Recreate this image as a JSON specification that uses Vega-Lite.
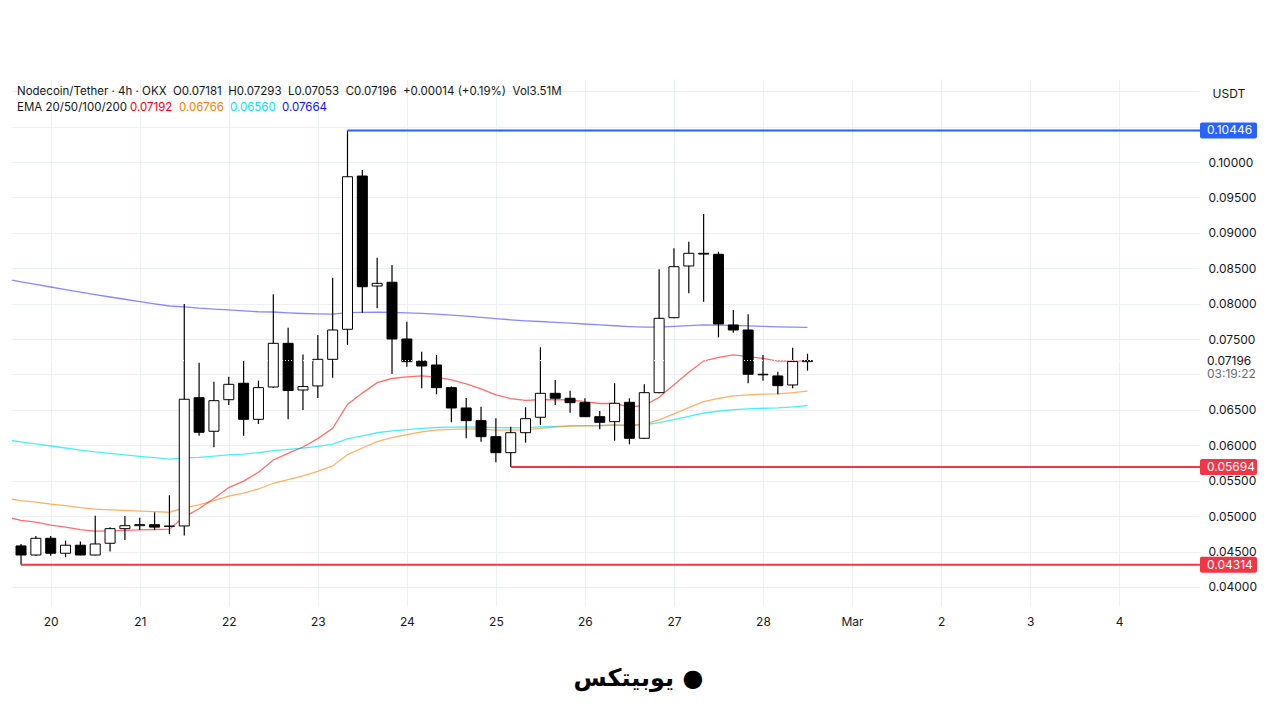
{
  "$schema": "https://vega.github.io/schema/vega-lite/v6.json",
  "description": "Nodecoin/Tether 4h candles with EMA 20/50/100/200",
  "width": 1188,
  "height": 527,
  "autosize": {"type": "none"},
  "padding": {"left": 12, "top": 79, "right": 80, "bottom": 114},
  "background": "#ffffff",
  "datasets": {
    "candles": [
      {"t": "2025-02-19T12:00:00Z", "ema20": 0.04990, "ema50": 0.05250, "ema100": 0.06080, "ema200": 0.08348},
      {"t": "2025-02-19T16:00:00Z", "open": 0.04579, "high": 0.04607, "low": 0.04314, "close": 0.04451, "ema20": 0.04939, "ema50": 0.05219, "ema100": 0.06048, "ema200": 0.08309},
      {"t": "2025-02-19T20:00:00Z", "open": 0.04451, "high": 0.04720, "low": 0.04440, "close": 0.04687, "ema20": 0.04915, "ema50": 0.05198, "ema100": 0.06021, "ema200": 0.08273},
      {"t": "2025-02-20T00:00:00Z", "open": 0.04687, "high": 0.04720, "low": 0.04442, "close": 0.04476, "ema20": 0.04873, "ema50": 0.05170, "ema100": 0.05990, "ema200": 0.08235},
      {"t": "2025-02-20T04:00:00Z", "open": 0.04476, "high": 0.04654, "low": 0.04420, "close": 0.04589, "ema20": 0.04846, "ema50": 0.05147, "ema100": 0.05962, "ema200": 0.08199},
      {"t": "2025-02-20T08:00:00Z", "open": 0.04589, "high": 0.04640, "low": 0.04446, "close": 0.04451, "ema20": 0.04808, "ema50": 0.05120, "ema100": 0.05932, "ema200": 0.08162},
      {"t": "2025-02-20T12:00:00Z", "open": 0.04451, "high": 0.05006, "low": 0.04445, "close": 0.04607, "ema20": 0.04789, "ema50": 0.05100, "ema100": 0.05906, "ema200": 0.08127},
      {"t": "2025-02-20T16:00:00Z", "open": 0.04617, "high": 0.04843, "low": 0.04500, "close": 0.04823, "ema20": 0.04792, "ema50": 0.05089, "ema100": 0.05885, "ema200": 0.08094},
      {"t": "2025-02-20T20:00:00Z", "open": 0.04823, "high": 0.05002, "low": 0.04663, "close": 0.04865, "ema20": 0.04799, "ema50": 0.05080, "ema100": 0.05865, "ema200": 0.08062},
      {"t": "2025-02-21T00:00:00Z", "open": 0.04865, "high": 0.04977, "low": 0.04804, "close": 0.04880, "ema20": 0.04807, "ema50": 0.05072, "ema100": 0.05845, "ema200": 0.08030},
      {"t": "2025-02-21T04:00:00Z", "open": 0.04879, "high": 0.05054, "low": 0.04804, "close": 0.04845, "ema20": 0.04811, "ema50": 0.05063, "ema100": 0.05825, "ema200": 0.07998},
      {"t": "2025-02-21T08:00:00Z", "open": 0.04855, "high": 0.05294, "low": 0.04745, "close": 0.04860, "ema20": 0.04815, "ema50": 0.05055, "ema100": 0.05806, "ema200": 0.07967},
      {"t": "2025-02-21T12:00:00Z", "open": 0.04861, "high": 0.07995, "low": 0.04727, "close": 0.06650, "ema20": 0.04990, "ema50": 0.05118, "ema100": 0.05823, "ema200": 0.07954},
      {"t": "2025-02-21T16:00:00Z", "open": 0.06672, "high": 0.07166, "low": 0.06136, "close": 0.06184, "ema20": 0.05104, "ema50": 0.05160, "ema100": 0.05830, "ema200": 0.07936},
      {"t": "2025-02-21T20:00:00Z", "open": 0.06198, "high": 0.06898, "low": 0.05972, "close": 0.06630, "ema20": 0.05249, "ema50": 0.05218, "ema100": 0.05846, "ema200": 0.07923},
      {"t": "2025-02-22T00:00:00Z", "open": 0.06644, "high": 0.06969, "low": 0.06569, "close": 0.06861, "ema20": 0.05403, "ema50": 0.05282, "ema100": 0.05866, "ema200": 0.07912},
      {"t": "2025-02-22T04:00:00Z", "open": 0.06876, "high": 0.07195, "low": 0.06136, "close": 0.06367, "ema20": 0.05495, "ema50": 0.05325, "ema100": 0.05876, "ema200": 0.07897},
      {"t": "2025-02-22T08:00:00Z", "open": 0.06367, "high": 0.06913, "low": 0.06301, "close": 0.06814, "ema20": 0.05620, "ema50": 0.05383, "ema100": 0.05895, "ema200": 0.07886},
      {"t": "2025-02-22T12:00:00Z", "open": 0.06823, "high": 0.08132, "low": 0.06810, "close": 0.07440, "ema20": 0.05793, "ema50": 0.05464, "ema100": 0.05925, "ema200": 0.07882},
      {"t": "2025-02-22T16:00:00Z", "open": 0.07440, "high": 0.07661, "low": 0.06367, "close": 0.06773, "ema20": 0.05887, "ema50": 0.05515, "ema100": 0.05942, "ema200": 0.07871},
      {"t": "2025-02-22T20:00:00Z", "open": 0.06781, "high": 0.07281, "low": 0.06499, "close": 0.06829, "ema20": 0.05976, "ema50": 0.05567, "ema100": 0.05960, "ema200": 0.07861},
      {"t": "2025-02-23T00:00:00Z", "open": 0.06838, "high": 0.07557, "low": 0.06668, "close": 0.07214, "ema20": 0.06094, "ema50": 0.05631, "ema100": 0.05985, "ema200": 0.07855},
      {"t": "2025-02-23T04:00:00Z", "open": 0.07214, "high": 0.08367, "low": 0.06955, "close": 0.07628, "ema20": 0.06240, "ema50": 0.05709, "ema100": 0.06017, "ema200": 0.07853},
      {"t": "2025-02-23T08:00:00Z", "open": 0.07638, "high": 0.10446, "low": 0.07416, "close": 0.09792, "ema20": 0.06578, "ema50": 0.05869, "ema100": 0.06092, "ema200": 0.07872},
      {"t": "2025-02-23T12:00:00Z", "open": 0.09802, "high": 0.09887, "low": 0.07872, "close": 0.08239, "ema20": 0.06737, "ema50": 0.05962, "ema100": 0.06134, "ema200": 0.07876},
      {"t": "2025-02-23T16:00:00Z", "open": 0.08249, "high": 0.08649, "low": 0.07934, "close": 0.08287, "ema20": 0.06884, "ema50": 0.06053, "ema100": 0.06177, "ema200": 0.07880},
      {"t": "2025-02-23T20:00:00Z", "open": 0.08302, "high": 0.08546, "low": 0.07007, "close": 0.07501, "ema20": 0.06943, "ema50": 0.06110, "ema100": 0.06203, "ema200": 0.07876},
      {"t": "2025-02-24T00:00:00Z", "open": 0.07501, "high": 0.07745, "low": 0.07110, "close": 0.07181, "ema20": 0.06966, "ema50": 0.06152, "ema100": 0.06222, "ema200": 0.07869},
      {"t": "2025-02-24T04:00:00Z", "open": 0.07190, "high": 0.07322, "low": 0.06805, "close": 0.07120, "ema20": 0.06980, "ema50": 0.06190, "ema100": 0.06240, "ema200": 0.07862},
      {"t": "2025-02-24T08:00:00Z", "open": 0.07134, "high": 0.07275, "low": 0.06720, "close": 0.06814, "ema20": 0.06964, "ema50": 0.06214, "ema100": 0.06251, "ema200": 0.07852},
      {"t": "2025-02-24T12:00:00Z", "open": 0.06814, "high": 0.06830, "low": 0.06325, "close": 0.06527, "ema20": 0.06923, "ema50": 0.06226, "ema100": 0.06257, "ema200": 0.07839},
      {"t": "2025-02-24T16:00:00Z", "open": 0.06527, "high": 0.06668, "low": 0.06099, "close": 0.06348, "ema20": 0.06868, "ema50": 0.06231, "ema100": 0.06259, "ema200": 0.07824},
      {"t": "2025-02-24T20:00:00Z", "open": 0.06348, "high": 0.06545, "low": 0.06051, "close": 0.06122, "ema20": 0.06797, "ema50": 0.06227, "ema100": 0.06256, "ema200": 0.07807},
      {"t": "2025-02-25T00:00:00Z", "open": 0.06122, "high": 0.06381, "low": 0.05760, "close": 0.05896, "ema20": 0.06711, "ema50": 0.06214, "ema100": 0.06249, "ema200": 0.07788},
      {"t": "2025-02-25T04:00:00Z", "open": 0.05896, "high": 0.06263, "low": 0.05694, "close": 0.06178, "ema20": 0.06660, "ema50": 0.06213, "ema100": 0.06248, "ema200": 0.07772},
      {"t": "2025-02-25T08:00:00Z", "open": 0.06178, "high": 0.06537, "low": 0.06037, "close": 0.06376, "ema20": 0.06633, "ema50": 0.06219, "ema100": 0.06250, "ema200": 0.07758},
      {"t": "2025-02-25T12:00:00Z", "open": 0.06396, "high": 0.07384, "low": 0.06287, "close": 0.06734, "ema20": 0.06643, "ema50": 0.06239, "ema100": 0.06260, "ema200": 0.07748},
      {"t": "2025-02-25T16:00:00Z", "open": 0.06734, "high": 0.06922, "low": 0.06569, "close": 0.06664, "ema20": 0.06645, "ema50": 0.06256, "ema100": 0.06268, "ema200": 0.07737},
      {"t": "2025-02-25T20:00:00Z", "open": 0.06664, "high": 0.06771, "low": 0.06460, "close": 0.06602, "ema20": 0.06641, "ema50": 0.06270, "ema100": 0.06275, "ema200": 0.07726},
      {"t": "2025-02-26T00:00:00Z", "open": 0.06602, "high": 0.06664, "low": 0.06400, "close": 0.06404, "ema20": 0.06618, "ema50": 0.06275, "ema100": 0.06278, "ema200": 0.07713},
      {"t": "2025-02-26T04:00:00Z", "open": 0.06404, "high": 0.06485, "low": 0.06226, "close": 0.06325, "ema20": 0.06590, "ema50": 0.06277, "ema100": 0.06279, "ema200": 0.07699},
      {"t": "2025-02-26T08:00:00Z", "open": 0.06334, "high": 0.06876, "low": 0.06066, "close": 0.06593, "ema20": 0.06590, "ema50": 0.06289, "ema100": 0.06285, "ema200": 0.07688},
      {"t": "2025-02-26T12:00:00Z", "open": 0.06607, "high": 0.06664, "low": 0.06014, "close": 0.06099, "ema20": 0.06543, "ema50": 0.06282, "ema100": 0.06281, "ema200": 0.07676},
      {"t": "2025-02-26T16:00:00Z", "open": 0.06099, "high": 0.06862, "low": 0.06090, "close": 0.06743, "ema20": 0.06562, "ema50": 0.06300, "ema100": 0.06290, "ema200": 0.07668},
      {"t": "2025-02-26T20:00:00Z", "open": 0.06743, "high": 0.08485, "low": 0.06735, "close": 0.07793, "ema20": 0.06679, "ema50": 0.06359, "ema100": 0.06320, "ema200": 0.07670},
      {"t": "2025-02-27T00:00:00Z", "open": 0.07802, "high": 0.08782, "low": 0.07795, "close": 0.08522, "ema20": 0.06855, "ema50": 0.06444, "ema100": 0.06364, "ema200": 0.07680},
      {"t": "2025-02-27T04:00:00Z", "open": 0.08532, "high": 0.08875, "low": 0.08146, "close": 0.08711, "ema20": 0.07031, "ema50": 0.06533, "ema100": 0.06410, "ema200": 0.07690},
      {"t": "2025-02-27T08:00:00Z", "open": 0.08711, "high": 0.09266, "low": 0.08028, "close": 0.08700, "ema20": 0.07190, "ema50": 0.06618, "ema100": 0.06456, "ema200": 0.07700},
      {"t": "2025-02-27T12:00:00Z", "open": 0.08697, "high": 0.08734, "low": 0.07525, "close": 0.07713, "ema20": 0.07240, "ema50": 0.06661, "ema100": 0.06481, "ema200": 0.07698},
      {"t": "2025-02-27T16:00:00Z", "open": 0.07699, "high": 0.07910, "low": 0.07590, "close": 0.07628, "ema20": 0.07277, "ema50": 0.06699, "ema100": 0.06503, "ema200": 0.07693},
      {"t": "2025-02-27T20:00:00Z", "open": 0.07628, "high": 0.07850, "low": 0.06876, "close": 0.07003, "ema20": 0.07251, "ema50": 0.06711, "ema100": 0.06513, "ema200": 0.07686},
      {"t": "2025-02-28T00:00:00Z", "open": 0.07003, "high": 0.07275, "low": 0.06912, "close": 0.06995, "ema20": 0.07227, "ema50": 0.06722, "ema100": 0.06523, "ema200": 0.07680},
      {"t": "2025-02-28T04:00:00Z", "open": 0.06979, "high": 0.07039, "low": 0.06720, "close": 0.06842, "ema20": 0.07190, "ema50": 0.06727, "ema100": 0.06529, "ema200": 0.07673},
      {"t": "2025-02-28T08:00:00Z", "open": 0.06852, "high": 0.07378, "low": 0.06805, "close": 0.07182, "ema20": 0.07188, "ema50": 0.06744, "ema100": 0.06542, "ema200": 0.07668},
      {"t": "2025-02-28T12:00:00Z", "open": 0.07181, "high": 0.07293, "low": 0.07053, "close": 0.07196, "ema20": 0.07192, "ema50": 0.06766, "ema100": 0.06560, "ema200": 0.07664}
    ],
    "levels": [
      {"level": "high", "price": 0.10446, "from": "2025-02-23T08:00:00Z"},
      {"level": "low", "price": 0.05694, "from": "2025-02-25T04:00:00Z"},
      {"level": "low", "price": 0.04314, "from": "2025-02-19T16:00:00Z"}
    ]
  },
  "data": {"name": "candles"},
  "layer": [
    {
      "mark": {"type": "line", "color": "#3b3bff", "opacity": 0.6, "strokeWidth": 1.3, "clip": true},
      "encoding": {
        "x": {
          "field": "t",
          "type": "temporal",
          "scale": {
            "type": "utc",
            "padding": 0,
            "domain": [
              {"year": 2025, "month": 2, "date": 19, "hours": 13, "minutes": 34, "utc": true},
              {"year": 2025, "month": 3, "date": 4, "hours": 21, "minutes": 48, "utc": true}
            ]
          },
          "axis": {
            "tickCount": {"interval": "day", "step": 1},
            "labelExpr": "utcFormat(datum.value, '%d') == '01' ? 'Mar' : utcFormat(datum.value, '%-d')",
            "grid": true,
            "gridColor": "#eeeff2",
            "ticks": false,
            "domain": false,
            "labelPadding": 10,
            "labelFontSize": 12,
            "labelColor": "#131722",
            "labelOverlap": false,
            "labelFlush": false,
            "title": "یوبیتکس ●",
            "titleFont": "DejaVu Sans",
            "titleFontSize": 24,
            "titleFontWeight": "bold",
            "titleColor": "#000000",
            "titleX": 626,
            "titleY": 72,
            "titleAlign": "center",
            "titleBaseline": "middle"
          }
        },
        "y": {
          "field": "ema200",
          "type": "quantitative",
          "scale": {"domain": [0.03731, 0.11172], "zero": false, "nice": false},
          "axis": {
            "orient": "right",
            "values": [0.04, 0.045, 0.05, 0.055, 0.06, 0.065, 0.07, 0.075, 0.08, 0.085, 0.09, 0.095, 0.1, 0.105, 0.11],
            "tickCount": 40,
            "labelExpr": "(datum.value > 0.1001 || abs(datum.value - 0.07) < 0.0001) ? '' : format(datum.value, '.5f')",
            "labelOverlap": false,
            "grid": true,
            "gridColor": "#eeeff2",
            "ticks": false,
            "domain": false,
            "labelPadding": 8,
            "labelFontSize": 12,
            "labelColor": "#131722",
            "title": "USDT",
            "titleAngle": 0,
            "titleX": 12,
            "titleY": 14,
            "titleAlign": "left",
            "titleBaseline": "middle",
            "titleFontSize": 12,
            "titleFontWeight": "normal",
            "titleColor": "#131722"
          }
        }
      }
    },
    {
      "mark": {"type": "line", "color": "#00e5ff", "opacity": 0.7, "strokeWidth": 1.3, "clip": true},
      "encoding": {
        "x": {"field": "t", "type": "temporal"},
        "y": {"field": "ema100", "type": "quantitative"}
      }
    },
    {
      "mark": {"type": "line", "color": "#ff9020", "opacity": 0.7, "strokeWidth": 1.3, "clip": true},
      "encoding": {
        "x": {"field": "t", "type": "temporal"},
        "y": {"field": "ema50", "type": "quantitative"}
      }
    },
    {
      "mark": {"type": "line", "color": "#ff2020", "opacity": 0.65, "strokeWidth": 1.3, "clip": true},
      "encoding": {
        "x": {"field": "t", "type": "temporal"},
        "y": {"field": "ema20", "type": "quantitative"}
      }
    },
    {
      "mark": {"type": "rule", "color": "#000000", "strokeWidth": 1.2},
      "encoding": {
        "x": {"field": "t", "type": "temporal"},
        "y": {"field": "low", "type": "quantitative"},
        "y2": {"field": "high"}
      }
    },
    {
      "mark": {"type": "bar", "width": 10, "stroke": "#000000", "strokeWidth": 1},
      "encoding": {
        "x": {"field": "t", "type": "temporal"},
        "y": {"field": "open", "type": "quantitative"},
        "y2": {"field": "close"},
        "fill": {
          "condition": {"test": "datum.close >= datum.open", "value": "#ffffff"},
          "value": "#000000"
        }
      }
    },
    {
      "data": {"name": "levels"},
      "mark": {"type": "rule", "strokeWidth": 2},
      "encoding": {
        "x": {"field": "from", "type": "temporal"},
        "x2": {"datum": {"year": 2025, "month": 3, "date": 4, "hours": 21, "minutes": 48, "utc": true}},
        "y": {"field": "price", "type": "quantitative"},
        "color": {
          "field": "level",
          "type": "nominal",
          "scale": {"domain": ["high", "low"], "range": ["#2962ff", "#f23645"]},
          "legend": null
        }
      }
    },
    {
      "data": {"name": "levels"},
      "mark": {"type": "rect", "x2Offset": 57, "yOffset": -8, "y2Offset": 8, "cornerRadius": 2},
      "encoding": {
        "x": {"datum": {"year": 2025, "month": 3, "date": 4, "hours": 21, "minutes": 48, "utc": true}},
        "x2": {"datum": {"year": 2025, "month": 3, "date": 4, "hours": 21, "minutes": 48, "utc": true}},
        "y": {"field": "price", "type": "quantitative"},
        "y2": {"field": "price"},
        "color": {"field": "level", "type": "nominal", "legend": null}
      }
    },
    {
      "data": {"name": "levels"},
      "mark": {"type": "text", "align": "left", "baseline": "middle", "dx": 7, "fontSize": 12, "color": "#ffffff"},
      "encoding": {
        "x": {"datum": {"year": 2025, "month": 3, "date": 4, "hours": 21, "minutes": 48, "utc": true}},
        "y": {"field": "price", "type": "quantitative"},
        "text": {"field": "price", "type": "quantitative", "format": ".5f"}
      }
    },
    {
      "transform": [{"filter": "datum.close === 0.07196"}],
      "mark": {"type": "rule", "color": "#ffffff", "strokeDash": [1, 2], "strokeWidth": 1},
      "encoding": {
        "x": {"datum": {"year": 2025, "month": 2, "date": 19, "hours": 13, "minutes": 34, "utc": true}},
        "x2": {"datum": {"year": 2025, "month": 3, "date": 4, "hours": 21, "minutes": 48, "utc": true}},
        "y": {"field": "close", "type": "quantitative"}
      }
    },
    {
      "transform": [{"filter": "datum.close === 0.07196"}],
      "mark": {"type": "text", "align": "left", "baseline": "middle", "dx": 7, "fontSize": 12, "color": "#131722"},
      "encoding": {
        "x": {"datum": {"year": 2025, "month": 3, "date": 4, "hours": 21, "minutes": 48, "utc": true}},
        "y": {"field": "close", "type": "quantitative"},
        "text": {"field": "close", "type": "quantitative", "format": ".5f"}
      }
    },
    {
      "transform": [{"filter": "datum.close === 0.07196"}],
      "mark": {"type": "text", "align": "left", "baseline": "middle", "dx": 7, "dy": 13, "fontSize": 12, "color": "#6a6d78"},
      "encoding": {
        "x": {"datum": {"year": 2025, "month": 3, "date": 4, "hours": 21, "minutes": 48, "utc": true}},
        "y": {"field": "close", "type": "quantitative"},
        "text": {"value": "03:19:22"}
      }
    },
    {
      "data": {"values": [{}]},
      "mark": {"type": "text", "align": "left", "baseline": "middle", "dx": 5, "fontSize": 11.5, "color": "#131722"},
      "encoding": {
        "x": {"datum": {"year": 2025, "month": 2, "date": 19, "hours": 13, "minutes": 34, "utc": true}},
        "y": {"datum": 0.10988},
        "text": {"value": "Nodecoin/Tether · 4h · OKX \u00a0O0.07181 \u00a0H0.07293 \u00a0L0.07053 \u00a0C0.07196 \u00a0+0.00014 (+0.19%) \u00a0Vol3.51M"}
      }
    },
    {
      "data": {"values": [{}]},
      "mark": {"type": "text", "align": "left", "baseline": "middle", "dx": 5, "fontSize": 11.5, "color": "#131722"},
      "encoding": {
        "x": {"datum": {"year": 2025, "month": 2, "date": 19, "hours": 13, "minutes": 34, "utc": true}},
        "y": {"datum": 0.10762},
        "text": {"value": "EMA 20/50/100/200"}
      }
    },
    {
      "data": {"values": [{}]},
      "mark": {"type": "text", "align": "left", "baseline": "middle", "dx": 118, "fontSize": 11.5, "color": "#ff0000"},
      "encoding": {
        "x": {"datum": {"year": 2025, "month": 2, "date": 19, "hours": 13, "minutes": 34, "utc": true}},
        "y": {"datum": 0.10762},
        "text": {"value": "0.07192"}
      }
    },
    {
      "data": {"values": [{}]},
      "mark": {"type": "text", "align": "left", "baseline": "middle", "dx": 167, "fontSize": 11.5, "color": "#ff8000"},
      "encoding": {
        "x": {"datum": {"year": 2025, "month": 2, "date": 19, "hours": 13, "minutes": 34, "utc": true}},
        "y": {"datum": 0.10762},
        "text": {"value": "0.06766"}
      }
    },
    {
      "data": {"values": [{}]},
      "mark": {"type": "text", "align": "left", "baseline": "middle", "dx": 218, "fontSize": 11.5, "color": "#00e5ff"},
      "encoding": {
        "x": {"datum": {"year": 2025, "month": 2, "date": 19, "hours": 13, "minutes": 34, "utc": true}},
        "y": {"datum": 0.10762},
        "text": {"value": "0.06560"}
      }
    },
    {
      "data": {"values": [{}]},
      "mark": {"type": "text", "align": "left", "baseline": "middle", "dx": 270, "fontSize": 11.5, "color": "#1010ff"},
      "encoding": {
        "x": {"datum": {"year": 2025, "month": 2, "date": 19, "hours": 13, "minutes": 34, "utc": true}},
        "y": {"datum": 0.10762},
        "text": {"value": "0.07664"}
      }
    }
  ],
  "config": {
    "font": "Inter",
    "view": {"stroke": null}
  }
}
